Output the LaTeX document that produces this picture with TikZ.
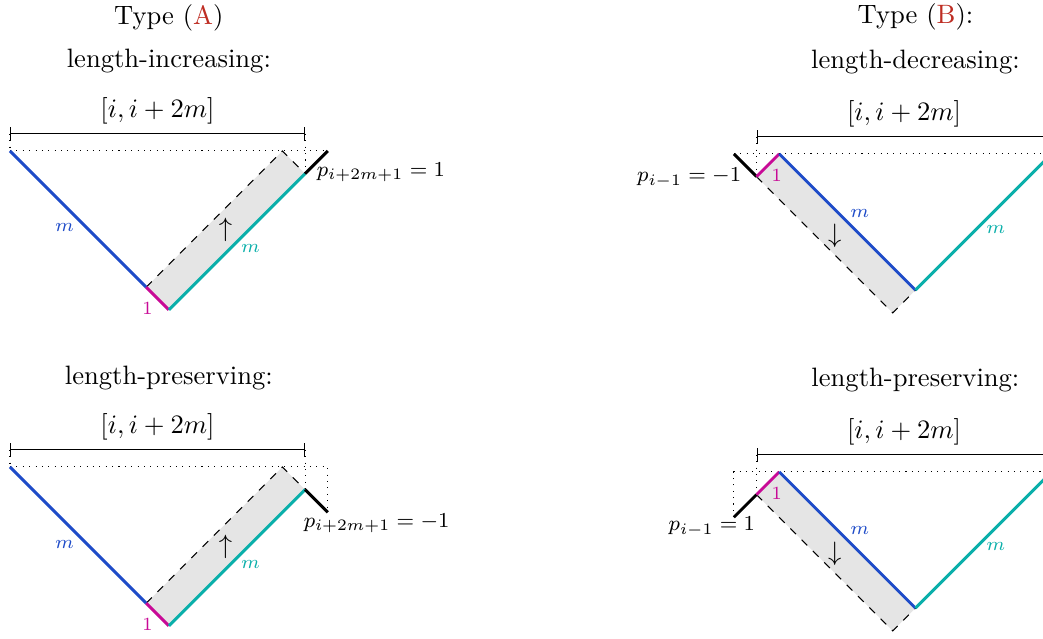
\documentclass[tikz,border=0pt]{standalone}
\usepackage{amsmath}
\usepackage{amssymb}
\usepackage{tikz}
\usetikzlibrary{arrows.meta}
\definecolor{pathblue}{RGB}{30,75,200}
\definecolor{pathteal}{RGB}{10,175,170}
\definecolor{pathmag}{RGB}{200,10,150}
\definecolor{typered}{RGB}{190,45,35}
\tikzset{
    downpath/.style={line width=1.1pt, pathblue},
    uppath/.style={line width=1.1pt, pathteal},
    unitpath/.style={line width=1.1pt, pathmag},
    extrapath/.style={line width=1.1pt, black},
    guide/.style={dotted},
    movedge/.style={dashed},
    band/.style={fill=gray!20},
    interval/.style={{Bar[width=5pt]}-{Bar[width=5pt]}},
    steplab/.style={font=\scriptsize, inner sep=1pt},
    plab/.style={font=\footnotesize, inner sep=1pt},
}
\begin{document}
\begin{tikzpicture}[x=0.3cm, y=0.3cm]
    \useasboundingbox (0,0) rectangle (45.95,-28.11);
    \clip (0,0) rectangle (45.95,-28.11);

    % 类型 (A)：长度增加
    \begin{scope}[shift={(0.44,-6.65)}]
        \coordinate (aiL) at (0,0);
        \coordinate (aiV) at (6,-6);
        \coordinate (aiB) at (7,-7);
        \coordinate (aiR) at (13,-1);
        \coordinate (aiE) at (14,0);
        \coordinate (aiD) at (12,0);
        \coordinate (aiT0) at (0,0.75);
        \coordinate (aiT1) at (13,0.75);
        \node (aiType) at (7,5.86) {Type ({\color{typered}A})};
        \node (aiHead) at (7,3.96) {length-increasing:};
        \fill[band] (aiV) -- (aiB) -- (aiR) -- (aiD) -- cycle;
        \draw[guide] (aiL) -- (aiE);
        \draw[guide] (aiT0) -- (aiL);
        \draw[guide] (aiT1) -- (aiR);
        \draw[interval] (aiT0) -- node[above] (aiI) {$[i,i+2m]$} (aiT1);
        \draw[movedge] (aiV) -- (aiD) -- (aiR);
        \draw[downpath] (aiL) -- (aiV);
        \draw[unitpath] (aiV) -- (aiB);
        \draw[uppath] (aiB) -- (aiR);
        \draw[extrapath] (aiR) -- (aiE);
        \node[steplab, pathblue] (aiM1) at (2.4,-3.38) {$m$};
        \node[steplab, pathteal] (aiM2) at (10.6,-4.28) {$m$};
        \node[steplab, pathmag] (aiOne) at (6.05,-6.93) {1};
        \node (aiArr) at (9.5,-3.47) {$\uparrow$};
        \node[plab] (aiP) at (16.34,-0.93) {$p_{i+2m+1}=1$};
    \end{scope}

    % 类型 (A)：长度不变
    \begin{scope}[shift={(0.44,-20.57)}]
        \coordinate (apL) at (0,0);
        \coordinate (apV) at (6,-6);
        \coordinate (apB) at (7,-7);
        \coordinate (apR) at (13,-1);
        \coordinate (apE) at (14,-2);
        \coordinate (apC) at (14,0);
        \coordinate (apD) at (12,0);
        \coordinate (apT0) at (0,0.75);
        \coordinate (apT1) at (13,0.75);
        \node (apHead) at (7,3.92) {length-preserving:};
        \fill[band] (apV) -- (apB) -- (apR) -- (apD) -- cycle;
        \draw[guide] (apL) -- (apC) -- (apE);
        \draw[guide] (apT0) -- (apL);
        \draw[guide] (apT1) -- (apR);
        \draw[interval] (apT0) -- node[above] (apI) {$[i,i+2m]$} (apT1);
        \draw[movedge] (apV) -- (apD) -- (apR);
        \draw[downpath] (apL) -- (apV);
        \draw[unitpath] (apV) -- (apB);
        \draw[uppath] (apB) -- (apR);
        \draw[extrapath] (apR) -- (apE);
        \node[steplab, pathblue] (apM1) at (2.4,-3.42) {$m$};
        \node[steplab, pathteal] (apM2) at (10.6,-4.3) {$m$};
        \node[steplab, pathmag] (apOne) at (6.05,-6.95) {1};
        \node (apArr) at (9.5,-3.5) {$\uparrow$};
        \node[plab] (apP) at (16.15,-2.47) {$p_{i+2m+1}=-1$};
    \end{scope}

    % 类型 (B)：长度减少
    \begin{scope}[shift={(32.33,-6.78)}]
        \coordinate (bdL) at (0,0);
        \coordinate (bdS) at (1,-1);
        \coordinate (bdP) at (2,0);
        \coordinate (bdV) at (8,-6);
        \coordinate (bdR) at (14,0);
        \coordinate (bdD) at (7,-7);
        \coordinate (bdT0) at (1,0.75);
        \coordinate (bdT1) at (14,0.75);
        \node (bdType) at (8,6.03) {Type ({\color{typered}B}):};
        \node (bdHead) at (8,4.05) {length-decreasing:};
        \fill[band] (bdS) -- (bdP) -- (bdV) -- (bdD) -- cycle;
        \draw[guide] (bdL) -- (bdR);
        \draw[guide] (bdT0) -- (bdS);
        \draw[guide] (bdT1) -- (bdR);
        \draw[interval] (bdT0) -- node[above] (bdI) {$[i,i+2m]$} (bdT1);
        \draw[movedge] (bdS) -- (bdD) -- (bdV);
        \draw[extrapath] (bdL) -- (bdS);
        \draw[unitpath] (bdS) -- (bdP);
        \draw[downpath] (bdP) -- (bdV);
        \draw[uppath] (bdV) -- (bdR);
        \node[steplab, pathmag] (bdOne) at (1.89,-0.95) {1};
        \node[steplab, pathblue] (bdM1) at (5.55,-2.62) {$m$};
        \node[steplab, pathteal] (bdM2) at (11.54,-3.32) {$m$};
        \node (bdArr) at (4.45,-3.63) {$\downarrow$};
        \node[plab] (bdP1) at (-1.97,-1.05) {$p_{i-1}=-1$};
    \end{scope}

    % 类型 (B)：长度不变
    \begin{scope}[shift={(32.33,-20.79)}]
        \coordinate (bpL) at (0,-2);
        \coordinate (bpC) at (0,0);
        \coordinate (bpS) at (1,-1);
        \coordinate (bpP) at (2,0);
        \coordinate (bpV) at (8,-6);
        \coordinate (bpR) at (14,0);
        \coordinate (bpD) at (7,-7);
        \coordinate (bpT0) at (1,0.75);
        \coordinate (bpT1) at (14,0.75);
        \node (bpHead) at (8,4.05) {length-preserving:};
        \fill[band] (bpS) -- (bpP) -- (bpV) -- (bpD) -- cycle;
        \draw[guide] (bpL) -- (bpC) -- (bpR);
        \draw[guide] (bpT0) -- (bpS);
        \draw[interval] (bpT0) -- node[above] (bpI) {$[i,i+2m]$} (bpT1);
        \draw[movedge] (bpS) -- (bpD) -- (bpV);
        \draw[extrapath] (bpL) -- (bpS);
        \draw[unitpath] (bpS) -- (bpP);
        \draw[downpath] (bpP) -- (bpV);
        \draw[uppath] (bpV) -- (bpR);
        \node[steplab, pathmag] (bpOne) at (1.89,-0.93) {1};
        \node[steplab, pathblue] (bpM1) at (5.55,-2.6) {$m$};
        \node[steplab, pathteal] (bpM2) at (11.54,-3.3) {$m$};
        \node (bpArr) at (4.45,-3.6) {$\downarrow$};
        \node[plab] (bpP1) at (-0.97,-2.42) {$p_{i-1}=1$};
    \end{scope}
\end{tikzpicture}
\end{document}
